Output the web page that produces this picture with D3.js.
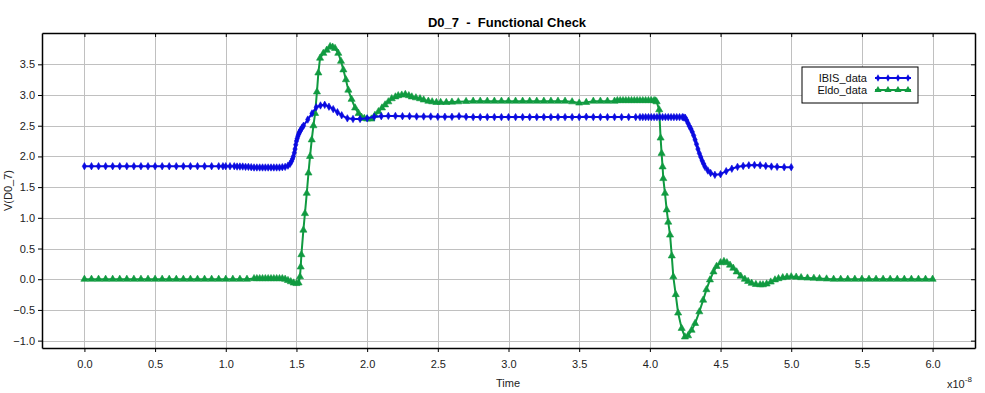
<!DOCTYPE html>
<html>
<head>
<meta charset="utf-8">
<script src="https://cdn.jsdelivr.net/npm/d3@7"></script>
<style>
  body { margin: 0; background: #fff; }
  svg { display: block; font-family: "Liberation Sans", Arial, sans-serif; }
</style>
</head>
<body>
<div id="chart"></div>
<script>
// time in units of 1e-8 s, voltage in V
const ibisData = [
  [0.0, 1.84], [0.05, 1.84], [0.1, 1.84], [0.15, 1.84], [0.2, 1.84], [0.25, 1.84], [0.3, 1.84], [0.35, 1.84],
  [0.4, 1.84], [0.45, 1.84], [0.5, 1.84], [0.55, 1.84], [0.6, 1.84], [0.65, 1.84], [0.7, 1.84], [0.75, 1.84],
  [0.8, 1.84], [0.85, 1.84], [0.9, 1.84], [0.95, 1.84], [0.98, 1.84], [1.0, 1.84], [1.03, 1.84], [1.06, 1.84],
  [1.08, 1.835], [1.1, 1.835], [1.12, 1.835], [1.14, 1.83], [1.16, 1.83], [1.18, 1.825], [1.2, 1.82], [1.22, 1.82],
  [1.24, 1.82], [1.26, 1.82], [1.28, 1.82], [1.3, 1.82], [1.32, 1.82], [1.34, 1.82], [1.36, 1.82], [1.38, 1.82],
  [1.4, 1.825], [1.42, 1.83], [1.44, 1.85], [1.455, 1.88], [1.465, 1.92], [1.472, 1.96], [1.478, 2.0], [1.485, 2.06],
  [1.49, 2.12], [1.495, 2.19], [1.5, 2.25], [1.505, 2.29], [1.51, 2.33], [1.515, 2.36], [1.52, 2.39], [1.525, 2.41],
  [1.53, 2.43], [1.54, 2.47], [1.55, 2.5], [1.58, 2.6], [1.61, 2.7], [1.64, 2.8], [1.67, 2.83], [1.7, 2.84],
  [1.73, 2.81], [1.76, 2.77], [1.79, 2.72], [1.82, 2.67], [1.86, 2.62], [1.9, 2.61], [1.95, 2.61], [2.0, 2.62],
  [2.05, 2.645], [2.1, 2.655], [2.15, 2.66], [2.2, 2.66], [2.25, 2.655], [2.3, 2.655], [2.35, 2.65], [2.4, 2.65],
  [2.45, 2.65], [2.5, 2.645], [2.55, 2.645], [2.6, 2.645], [2.65, 2.655], [2.7, 2.645], [2.75, 2.64], [2.8, 2.64],
  [2.85, 2.64], [2.9, 2.64], [2.95, 2.64], [3.0, 2.64], [3.05, 2.64], [3.1, 2.64], [3.15, 2.64], [3.2, 2.64],
  [3.25, 2.64], [3.3, 2.64], [3.35, 2.64], [3.4, 2.64], [3.45, 2.64], [3.5, 2.64], [3.55, 2.645], [3.6, 2.64],
  [3.65, 2.64], [3.7, 2.64], [3.75, 2.64], [3.8, 2.64], [3.85, 2.64], [3.9, 2.64], [3.93, 2.64], [3.95, 2.64],
  [3.97, 2.64], [3.99, 2.64], [4.01, 2.64], [4.03, 2.64], [4.05, 2.64], [4.07, 2.64], [4.09, 2.64], [4.11, 2.64],
  [4.13, 2.64], [4.15, 2.64], [4.17, 2.64], [4.19, 2.64], [4.21, 2.64], [4.23, 2.64], [4.24, 2.635], [4.25, 2.63],
  [4.26, 2.59], [4.27, 2.54], [4.28, 2.49], [4.29, 2.45], [4.3, 2.4], [4.31, 2.34], [4.32, 2.27], [4.33, 2.2],
  [4.34, 2.12], [4.35, 2.05], [4.36, 1.99], [4.37, 1.93], [4.38, 1.88], [4.39, 1.83], [4.41, 1.77], [4.43, 1.73],
  [4.46, 1.7], [4.5, 1.71], [4.54, 1.76], [4.58, 1.8], [4.62, 1.83], [4.66, 1.845], [4.7, 1.855], [4.74, 1.86],
  [4.78, 1.855], [4.82, 1.845], [4.86, 1.835], [4.9, 1.83], [4.95, 1.825], [5.0, 1.825]
];

const eldoData = [
  [0.0, 0.0], [0.05, 0.0], [0.1, 0.0], [0.15, 0.0], [0.2, 0.0], [0.25, 0.0], [0.3, 0.0], [0.35, 0.0],
  [0.4, 0.0], [0.45, 0.0], [0.5, 0.0], [0.55, 0.0], [0.6, 0.0], [0.65, 0.0], [0.7, 0.0], [0.75, 0.0],
  [0.8, 0.0], [0.85, 0.0], [0.9, 0.0], [0.95, 0.0], [1.0, 0.0], [1.05, 0.0], [1.1, 0.0], [1.15, 0.0],
  [1.2, 0.01], [1.22, 0.01], [1.24, 0.01], [1.26, 0.01], [1.28, 0.01], [1.3, 0.01], [1.32, 0.01], [1.34, 0.01],
  [1.36, 0.01], [1.38, 0.01], [1.4, 0.01], [1.42, 0.0], [1.44, -0.02], [1.46, -0.04], [1.48, -0.06], [1.5, -0.07],
  [1.515, -0.06], [1.525, 0.04], [1.53, 0.2], [1.535, 0.4], [1.549, 0.8], [1.56, 1.07], [1.573, 1.4], [1.585, 1.73],
  [1.596, 2.0], [1.608, 2.27], [1.62, 2.5], [1.632, 2.7], [1.645, 3.05], [1.655, 3.36], [1.667, 3.6], [1.69, 3.68],
  [1.714, 3.73], [1.738, 3.79], [1.756, 3.78], [1.773, 3.76], [1.796, 3.68], [1.815, 3.55], [1.832, 3.41], [1.85, 3.25],
  [1.867, 3.08], [1.89, 2.93], [1.915, 2.79], [1.94, 2.7], [1.96, 2.64], [1.98, 2.62], [2.0, 2.61], [2.03, 2.61],
  [2.055, 2.67], [2.08, 2.73], [2.105, 2.79], [2.127, 2.84], [2.15, 2.89], [2.174, 2.94], [2.2, 2.97], [2.22, 2.99],
  [2.245, 3.0], [2.27, 3.01], [2.295, 2.99], [2.316, 2.97], [2.345, 2.955], [2.374, 2.94], [2.4, 2.92], [2.433, 2.9],
  [2.46, 2.89], [2.49, 2.88], [2.52, 2.88], [2.56, 2.88], [2.6, 2.885], [2.645, 2.89], [2.7, 2.895], [2.75, 2.9],
  [2.8, 2.9], [2.85, 2.9], [2.9, 2.9], [2.95, 2.9], [3.0, 2.9], [3.05, 2.9], [3.1, 2.9], [3.15, 2.9],
  [3.2, 2.9], [3.25, 2.9], [3.3, 2.9], [3.35, 2.9], [3.4, 2.9], [3.45, 2.89], [3.5, 2.87], [3.55, 2.88],
  [3.6, 2.9], [3.65, 2.9], [3.7, 2.9], [3.75, 2.9], [3.77, 2.91], [3.79, 2.91], [3.81, 2.91], [3.83, 2.91],
  [3.85, 2.91], [3.87, 2.91], [3.89, 2.91], [3.91, 2.91], [3.93, 2.91], [3.95, 2.91], [3.97, 2.91], [3.99, 2.91],
  [4.01, 2.91], [4.03, 2.91], [4.04, 2.905], [4.048, 2.89], [4.066, 2.76], [4.076, 2.3], [4.083, 2.05], [4.09, 1.83],
  [4.095, 1.64], [4.107, 1.4], [4.119, 1.13], [4.13, 0.93], [4.143, 0.72], [4.155, 0.38], [4.166, 0.04], [4.183, -0.25],
  [4.2, -0.55], [4.225, -0.8], [4.248, -0.94], [4.27, -0.92], [4.295, -0.83], [4.32, -0.72], [4.35, -0.53], [4.377, -0.34],
  [4.4, -0.17], [4.425, -0.01], [4.45, 0.12], [4.472, 0.21], [4.5, 0.27], [4.524, 0.29], [4.545, 0.27], [4.567, 0.23],
  [4.59, 0.18], [4.614, 0.12], [4.643, 0.05], [4.672, 0.0], [4.695, -0.035], [4.72, -0.065], [4.75, -0.085], [4.78, -0.09],
  [4.8, -0.09], [4.826, -0.077], [4.855, -0.045], [4.885, -0.01], [4.91, 0.01], [4.94, 0.026], [4.97, 0.035], [5.0, 0.04],
  [5.035, 0.035], [5.07, 0.026], [5.115, 0.02], [5.16, 0.016], [5.2, 0.01], [5.25, 0.005], [5.3, 0.0], [5.35, 0.0],
  [5.4, 0.0], [5.45, 0.0], [5.5, 0.0], [5.55, 0.0], [5.6, 0.0], [5.65, 0.0], [5.7, 0.0], [5.75, 0.0],
  [5.8, 0.0], [5.85, 0.0], [5.9, 0.0], [5.95, 0.0], [6.0, 0.0]
];

const xTicks = [0, 0.5, 1, 1.5, 2, 2.5, 3, 3.5, 4, 4.5, 5, 5.5, 6];
const yTicks = [-1, -0.5, 0, 0.5, 1, 1.5, 2, 2.5, 3, 3.5];
const seriesNames = ['IBIS_data', 'Eldo_data'];

const width = 985;
const height = 393;
const margin = { top: 33, right: 10, bottom: 45, left: 42 };

const svg = d3.select('#chart').append('svg').attr('width', width).attr('height', height);

const x = d3.scaleLinear().domain([-0.3, 6.3]).range([margin.left, width - margin.right]);
const y = d3.scaleLinear().domain([-1.12, 4.01]).range([height - margin.bottom, margin.top]);

// grid
svg.append('g')
  .selectAll('line')
  .data(xTicks)
  .join('line')
  .attr('x1', (d) => Math.round(x(d)) + 0.5)
  .attr('x2', (d) => Math.round(x(d)) + 0.5)
  .attr('y1', margin.top)
  .attr('y2', height - margin.bottom)
  .attr('stroke', '#c0c0c0');

svg.append('g')
  .selectAll('line')
  .data(yTicks)
  .join('line')
  .attr('y1', (d) => Math.round(y(d)) + 0.5)
  .attr('y2', (d) => Math.round(y(d)) + 0.5)
  .attr('x1', margin.left)
  .attr('x2', width - margin.right)
  .attr('stroke', '#c0c0c0');

// axes
const fmt = d3.format('.1f');
svg.append('g')
  .attr('transform', `translate(0,${height - margin.bottom})`)
  .call(d3.axisBottom(x).tickValues(xTicks).tickFormat(fmt).tickSizeOuter(0).tickSizeInner(4).tickPadding(8));
svg.append('g')
  .attr('transform', `translate(${margin.left},0)`)
  .call(d3.axisLeft(y).tickValues(yTicks).tickFormat(fmt).tickSizeOuter(0).tickSizeInner(4).tickPadding(3));
svg.append('g')
  .attr('transform', `translate(0,${margin.top})`)
  .call(d3.axisBottom(x).tickValues(xTicks).tickFormat('').tickSizeOuter(0).tickSizeInner(4));
svg.append('g')
  .attr('transform', `translate(${width - margin.right},0)`)
  .call(d3.axisRight(y).tickValues(yTicks).tickFormat('').tickSizeOuter(0).tickSizeInner(-4));

svg.selectAll('.domain').attr('stroke', '#000').attr('stroke-width', 1.5);
svg.selectAll('.tick line').attr('stroke', '#000');
svg.selectAll('.tick text').attr('font-size', 11).attr('fill', '#222').attr('font-family', '"Liberation Sans", Arial, sans-serif');

// lines
const line = d3.line().x((d) => x(d[0])).y((d) => y(d[1]));
const colors = ['#0a0ae0', '#109a40'];
const symbols = [d3.symbol().type(d3.symbolDiamond).size(16), d3.symbol().type(d3.symbolTriangle).size(22)];
const allData = [ibisData, eldoData];

const plot = svg.append('g');
[1, 0].forEach((i) => {
  const g = plot.append('g');
  g.append('path')
    .datum(allData[i])
    .attr('fill', 'none')
    .attr('stroke', colors[i])
    .attr('stroke-width', 2)
    .attr('stroke-linejoin', 'round')
    .attr('d', line);
  g.selectAll('path.m')
    .data(allData[i])
    .join('path')
    .attr('class', 'm')
    .attr('transform', (d) => `translate(${x(d[0])},${y(d[1])})`)
    .attr('d', symbols[i])
    .attr('fill', colors[i])
    .attr('stroke', colors[i])
    .attr('stroke-width', 0.6);
});

// title + labels
svg.append('text')
  .attr('x', 507).attr('y', 27)
  .attr('text-anchor', 'middle')
  .attr('font-size', 13).attr('font-weight', 'bold')
  .style('white-space', 'pre')
  .text('D0_7  -  Functional Check');

svg.append('text')
  .attr('transform', `translate(12,${(margin.top + height - margin.bottom) / 2}) rotate(-90)`)
  .attr('text-anchor', 'middle')
  .attr('font-size', 11).attr('fill', '#222')
  .text('V(D0_7)');

svg.append('text')
  .attr('x', 508).attr('y', 387)
  .attr('text-anchor', 'middle')
  .attr('font-size', 11).attr('fill', '#222')
  .text('Time');

const sci = svg.append('text').attr('x', 947).attr('y', 388).attr('font-size', 11).attr('fill', '#222');
sci.append('tspan').text('x10');
sci.append('tspan').attr('dy', -6).attr('font-size', 8).text('-8');

// legend
const legend = svg.append('g').attr('transform', 'translate(802,67)');
legend.append('rect').attr('width', 116).attr('height', 36).attr('fill', '#fff').attr('stroke', '#000');
seriesNames.forEach((name, i) => {
  const ly = 11 + i * 12;
  legend.append('text')
    .attr('x', 65).attr('y', ly + 4)
    .attr('text-anchor', 'end')
    .attr('font-size', 11).attr('fill', '#111')
    .text(name);
  legend.append('line')
    .attr('x1', 73).attr('x2', 109).attr('y1', ly).attr('y2', ly)
    .attr('stroke', colors[i]).attr('stroke-width', 2);
  legend.selectAll(null)
    .data([76, 86, 96, 106])
    .join('path')
    .attr('transform', (d) => `translate(${d},${ly})`)
    .attr('d', symbols[i])
    .attr('fill', colors[i]);
});
</script>
</body>
</html>
